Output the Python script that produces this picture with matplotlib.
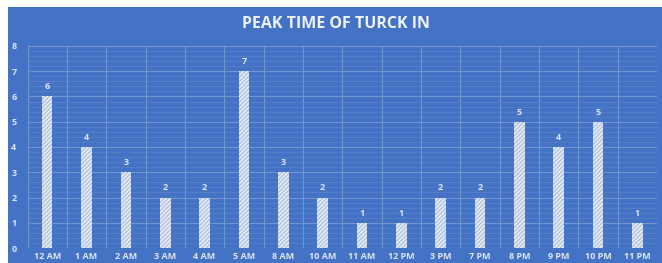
import matplotlib
matplotlib.use("Agg")
import matplotlib.pyplot as plt
from matplotlib.patches import Rectangle
import numpy as np

categories = ["12 AM", "1 AM", "2 AM", "3 AM", "4 AM", "5 AM", "8 AM", "10 AM",
              "11 AM", "12 PM", "3 PM", "7 PM", "8 PM", "9 PM", "10 PM", "11 PM"]
values = [6, 4, 3, 2, 2, 7, 3, 2, 1, 1, 2, 2, 5, 4, 5, 1]
title = "PEAK TIME OF TURCK IN"

BLUE = "#4472C4"
TXT = "#dfe6f3"
plt.rcParams['font.family'] = ['Open Sans', 'DejaVu Sans']
plt.rcParams['hatch.linewidth'] = 0.7

fig = plt.figure(figsize=(6.62, 2.63), dpi=100)
fig.patch.set_facecolor("white")
fig.patches.append(Rectangle((8/662, 0), 1 - 8/662, 1 - 7/263, transform=fig.transFigure,
                             facecolor=BLUE, edgecolor="none", zorder=-10))

ax = fig.add_axes([27.5/662, 1 - 248/263, (657 - 27.5)/662, (248 - 46)/263])
ax.set_facecolor("none")
x = np.arange(len(categories))
bars = ax.bar(x, values, width=0.27, facecolor="#e6ebf5", edgecolor="#9fb3d9",
              hatch="////////", linewidth=0, zorder=3)
for xi, v in zip(x, values):
    ax.text(xi, v + 0.2, str(v), ha="center", va="bottom", color=TXT, fontsize=6.5,
            fontweight="bold", zorder=4)

ax.set_xlim(-0.5, len(categories) - 0.5)
ax.set_ylim(0, 8)
ax.set_yticks(range(0, 9))
ax.set_yticks(np.arange(0, 8.01, 0.2), minor=True)
ax.set_xticks(x)
ax.set_xticklabels(categories)
for s in ax.spines.values():
    s.set_visible(False)
ax.tick_params(axis="both", length=0, colors=TXT, labelsize=6.5)
ax.tick_params(axis="y", which="minor", length=0)
ax.tick_params(axis="x", pad=3)
ax.tick_params(axis="y", pad=8)
for lbl in ax.get_xticklabels() + ax.get_yticklabels():
    lbl.set_fontweight("bold")

for yy in range(0, 9):
    ax.axhline(yy, color="#7295d3", linewidth=0.8, zorder=1)
for yy in np.arange(0, 8.01, 0.2):
    ax.axhline(yy, color="#5a82cb", linewidth=0.5, zorder=0.5)
for xv in np.arange(-0.5, len(categories), 1.0):
    ax.axvline(xv, color="#7295d3", linewidth=0.8, zorder=1)

fig.text(0.508, 1 - 23.5/263, title, ha="center", va="center", color="#eef2fa",
         fontsize=11.5, fontweight="bold")

fig.savefig("out.png", dpi=100, facecolor=fig.get_facecolor())
